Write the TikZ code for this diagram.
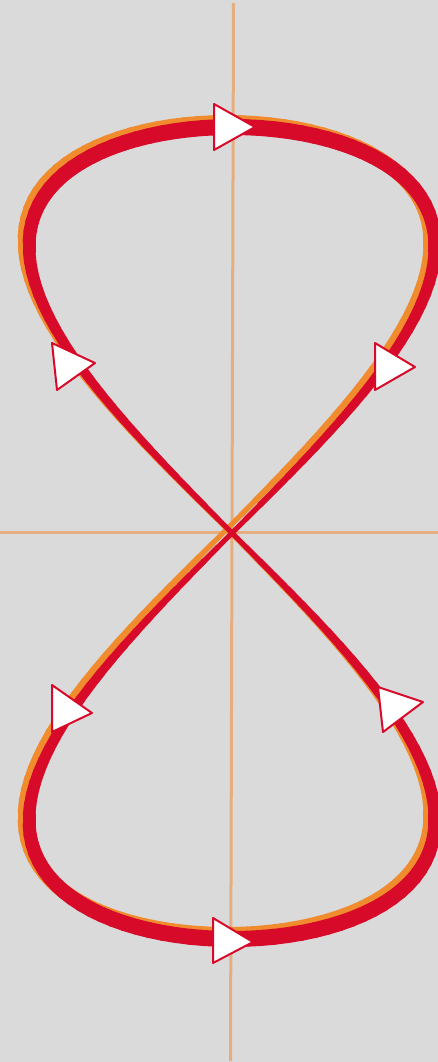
\documentclass[tikz,border=0pt]{standalone}
\definecolor{bg}{HTML}{DADADA}
\definecolor{curvered}{HTML}{D70A2A}
\definecolor{curveorange}{HTML}{F08C2E}
\definecolor{axisorange}{HTML}{E6AE7E}
\tikzset{
  axisline/.style={draw=axisorange, line width=3pt},
  shadowseg/.style={draw=curveorange, line cap=round},
  curveseg/.style={draw=curvered, line cap=round},
  tri/.style={fill=white, draw=curvered, line width=2pt, line join=round}
}
\begin{document}
\begin{tikzpicture}[x=1pt,y=-1pt]
\fill[bg] (0,0) rectangle (438,1062);
\useasboundingbox (0,0) rectangle (438,1062);
% axes
\draw[axisline] (233.5,3) -- (230.5,1061);
\draw[axisline] (0,532.5) -- (438,532.5);
% orange shadow of the figure eight
\foreach \t in {0,2,...,358}{
  \pgfmathsetmacro\ta{\t}
  \pgfmathsetmacro\tb{\t+2}
  \pgfmathsetmacro\w{5+11*abs(cos(\t+1))}
  \draw[shadowseg, line width=\w pt]
    ({232+406*sin(\ta)*cos(\ta)-5},{533-406*cos(\ta)-4}) --
    ({232+406*sin(\tb)*cos(\tb)-5},{533-406*cos(\tb)-4});
}
% red figure eight
\foreach \t in {0,2,...,358}{
  \pgfmathsetmacro\ta{\t}
  \pgfmathsetmacro\tb{\t+2}
  \pgfmathsetmacro\w{5+11*abs(cos(\t+1))}
  \draw[curveseg, line width=\w pt]
    ({232+406*sin(\ta)*cos(\ta)},{533-406*cos(\ta)}) --
    ({232+406*sin(\tb)*cos(\tb)},{533-406*cos(\tb)});
}
% arrowheads
\draw[tri] (214,104) -- (214,150) -- (255,127) -- cycle;
\draw[tri] (52,343) -- (57,390) -- (95,363) -- cycle;
\draw[tri] (375,343) -- (375,390) -- (415,367) -- cycle;
\draw[tri] (52,685) -- (52,732) -- (92,713) -- cycle;
\draw[tri] (378,687) -- (383,732) -- (423,702) -- cycle;
\draw[tri] (213,918) -- (213,963) -- (253,942) -- cycle;
\end{tikzpicture}
\end{document}
